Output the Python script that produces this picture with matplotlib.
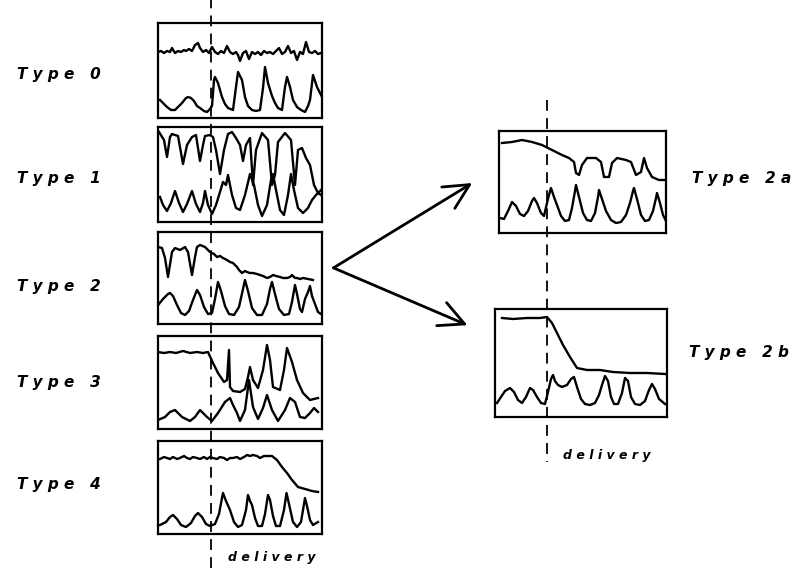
import matplotlib.pyplot as plt
from matplotlib.lines import Line2D
from matplotlib.patches import ConnectionPatch
from matplotlib.transforms import blended_transform_factory

# traces as (time, level) in panel units
type0_upper = [(0, 66), (3, 67), (6, 65), (9, 67), (12, 66), (14, 70), (17, 65), (20, 67), (23, 66),
               (26, 68), (28, 67), (31, 69), (34, 67), (37, 73), (40, 75), (42, 70), (45, 66), (48, 68),
               (51, 65), (54, 71), (57, 66), (60, 64), (63, 67), (66, 65), (69, 72), (72, 66), (75, 64),
               (78, 66), (80, 63), (82, 57), (85, 65), (88, 67), (91, 59), (94, 66), (97, 64), (100, 66),
               (103, 63), (106, 67), (109, 65), (112, 66), (115, 64), (118, 67), (121, 70), (124, 64),
               (127, 66), (130, 72), (133, 65), (136, 67), (139, 58), (142, 66), (145, 64), (148, 76),
               (151, 66), (154, 65), (157, 67), (160, 64), (163, 65)]
type0_lower = [(2, 18), (6, 14), (9, 11), (13, 8), (17, 8), (21, 12), (24, 15), (28, 20), (30, 21),
               (33, 20), (36, 17), (39, 12), (42, 10), (46, 7), (49, 6), (52, 9), (54, 12), (56, 38),
               (57, 41), (60, 35), (64, 21), (67, 14), (70, 10), (75, 8), (78, 31), (80, 46), (84, 38),
               (87, 21), (90, 12), (94, 8), (98, 7), (102, 8), (105, 30), (107, 51), (110, 35), (114, 22),
               (117, 15), (120, 10), (124, 8), (127, 31), (129, 41), (132, 31), (135, 18), (139, 11),
               (143, 8), (147, 6), (150, 12), (152, 18), (155, 43), (159, 31), (164, 21)]

type1_upper = [(1, 90), (6, 82), (9, 65), (12, 85), (14, 88), (20, 86), (25, 58), (29, 77), (34, 85),
               (38, 87), (42, 61), (45, 77), (47, 86), (52, 87), (55, 85), (58, 72), (62, 48), (66, 72),
               (70, 88), (74, 90), (78, 84), (82, 77), (85, 61), (88, 77), (92, 84), (95, 37), (98, 72),
               (104, 89), (110, 82), (114, 37), (117, 47), (120, 80), (127, 89), (133, 82), (137, 37),
               (140, 72), (144, 74), (148, 64), (152, 57), (156, 37), (160, 29), (163, 27)]
type1_lower = [(2, 25), (5, 17), (9, 11), (13, 19), (17, 31), (21, 19), (25, 10), (29, 18), (34, 31),
               (38, 18), (42, 10), (45, 19), (47, 31), (50, 17), (54, 8), (58, 17), (62, 30), (65, 40),
               (68, 37), (70, 47), (74, 27), (78, 14), (82, 12), (87, 27), (92, 48), (96, 37), (100, 17),
               (104, 6), (109, 17), (113, 42), (115, 48), (118, 32), (122, 12), (126, 7), (130, 27),
               (133, 48), (136, 32), (140, 14), (145, 9), (150, 14), (154, 22), (158, 27), (163, 32)]

type2_upper = [(0, 77), (4, 76), (7, 66), (10, 47), (14, 72), (17, 76), (22, 74), (27, 77), (30, 72),
               (34, 49), (37, 67), (39, 77), (42, 79), (47, 77), (52, 72), (56, 70), (59, 67), (62, 68),
               (65, 66), (69, 64), (72, 62), (75, 61), (79, 57), (81, 54), (84, 51), (87, 53), (89, 52),
               (92, 51), (95, 51), (99, 50), (102, 49), (105, 48), (109, 46), (112, 47), (115, 49),
               (118, 48), (122, 47), (125, 46), (129, 46), (132, 47), (134, 49), (137, 46), (139, 46),
               (142, 45), (145, 46), (150, 45), (155, 44)]
type2_lower = [(1, 20), (5, 25), (10, 30), (12, 31), (15, 28), (19, 19), (23, 11), (27, 9), (31, 13),
               (35, 24), (39, 34), (42, 29), (46, 17), (50, 10), (54, 11), (57, 25), (60, 42), (63, 33),
               (67, 18), (71, 10), (76, 9), (81, 17), (85, 35), (87, 44), (90, 33), (94, 16), (99, 9),
               (104, 9), (109, 20), (112, 35), (114, 42), (117, 30), (121, 15), (126, 9), (131, 10),
               (134, 22), (137, 39), (139, 30), (142, 15), (144, 12), (147, 25), (150, 32), (152, 38),
               (154, 28), (157, 20), (160, 12), (163, 10)]

type3_upper = [(0, 77), (6, 76), (12, 77), (18, 76), (25, 78), (32, 76), (39, 77), (45, 76), (50, 77),
               (55, 66), (60, 56), (66, 47), (69, 49), (71, 79), (72, 42), (75, 38), (82, 37), (87, 40),
               (90, 52), (92, 62), (95, 49), (100, 41), (105, 59), (109, 84), (112, 69), (115, 42),
               (122, 39), (126, 59), (129, 81), (134, 67), (139, 49), (145, 36), (152, 29), (160, 31)]
type3_lower = [(0, 9), (7, 12), (12, 17), (17, 19), (21, 15), (24, 12), (32, 8), (37, 12), (42, 19),
               (46, 15), (49, 12), (54, 8), (60, 16), (67, 27), (72, 31), (75, 24), (79, 16), (82, 8),
               (87, 19), (91, 49), (95, 22), (100, 10), (105, 21), (109, 34), (114, 19), (120, 8),
               (127, 19), (132, 31), (137, 27), (142, 12), (147, 11), (152, 16), (156, 21), (160, 17)]

type4_upper = [(2, 75), (6, 77), (9, 76), (12, 75), (15, 77), (19, 75), (22, 76), (26, 78), (29, 76),
               (32, 75), (35, 77), (39, 76), (42, 75), (46, 77), (49, 75), (52, 77), (55, 76), (59, 75),
               (62, 77), (66, 76), (69, 74), (72, 76), (75, 76), (79, 77), (82, 75), (86, 77), (89, 79),
               (92, 78), (95, 79), (99, 78), (102, 76), (106, 78), (109, 78), (114, 78), (119, 74),
               (124, 67), (129, 61), (134, 54), (140, 47), (147, 45), (154, 43), (160, 42)]
type4_lower = [(2, 9), (8, 12), (12, 17), (15, 19), (19, 15), (23, 9), (28, 7), (33, 11), (37, 18),
               (40, 21), (44, 17), (48, 10), (52, 8), (57, 10), (61, 20), (64, 36), (65, 41), (68, 33),
               (72, 24), (76, 12), (80, 7), (84, 9), (88, 24), (90, 39), (92, 33), (94, 29), (97, 16),
               (100, 8), (104, 8), (107, 20), (110, 39), (112, 34), (115, 18), (118, 8), (122, 8),
               (126, 24), (128.5, 41), (131, 30), (135, 12), (139, 7), (143, 12), (146, 30), (147, 36),
               (149, 28), (152, 14), (155, 9), (160, 12)]

type2a_upper = [(3, 90), (13, 91), (23, 93), (33, 91), (43, 88), (53, 83), (63, 78), (70, 75), (75, 71),
                (77, 60), (80, 58), (83, 68), (88, 75), (97, 75), (102, 71), (105, 56), (110, 56),
                (113, 70), (118, 75), (127, 73), (132, 71), (137, 58), (142, 61), (145, 75), (148, 65),
                (153, 56), (160, 53), (166, 53)]
type2a_lower = [(1, 15), (5, 14), (9, 22), (13, 31), (17, 27), (21, 19), (25, 17), (29, 22), (33, 32),
                (35, 35), (38, 30), (42, 20), (45, 17), (48, 30), (50, 38), (52, 45), (55, 36), (58, 28),
                (62, 17), (66, 12), (70, 13), (73, 25), (76, 42), (77, 48), (80, 36), (84, 20), (88, 13),
                (92, 12), (96, 20), (99, 36), (100, 43), (103, 34), (107, 22), (112, 13), (117, 10),
                (122, 11), (127, 18), (131, 30), (134, 42), (135, 45), (138, 34), (142, 18), (146, 12),
                (150, 13), (154, 22), (157, 35), (158, 40), (161, 30), (164, 18), (167, 12)]

type2b_upper = [(7, 99), (18, 98), (32, 99), (45, 99), (52, 100), (57, 94), (62, 84), (68, 72), (75, 60),
                (82, 49), (92, 47), (105, 47), (118, 45), (135, 44), (152, 44), (170, 43)]
type2b_lower = [(2, 14), (6, 20), (10, 26), (15, 29), (19, 25), (23, 17), (27, 14), (31, 20), (35, 29),
                (38, 27), (42, 20), (46, 14), (50, 13), (53, 25), (56, 38), (58, 42), (60, 36), (63, 32),
                (67, 30), (72, 32), (76, 38), (79, 40), (82, 30), (86, 18), (90, 13), (95, 12), (100, 14),
                (104, 22), (107, 32), (110, 41), (113, 36), (116, 20), (119, 13), (123, 13), (127, 24),
                (130, 39), (133, 36), (136, 20), (140, 13), (145, 12), (150, 16), (154, 27), (157, 33),
                (160, 28), (164, 18), (170, 13)]

# time of delivery in each column's panel units
delivery_left = 53
delivery_2a = 48
delivery_2b = 52

W, H = 796, 568
fig = plt.figure(figsize=(W / 100, H / 100), dpi=100)


def panel(left, top, width, height, upper, lower):
    ax = fig.add_axes([left / W, 1 - (top + height) / H, width / W, height / H])
    ax.set_xlim(0, width)
    ax.set_ylim(0, height)
    ax.set_xticks([])
    ax.set_yticks([])
    for s in ax.spines.values():
        s.set_linewidth(1.6)
    for trace in (upper, lower):
        t, v = zip(*trace)
        ax.plot(t, v, color='black', lw=1.7, solid_joinstyle='round')
    return ax


ax0 = panel(158, 23, 164, 95, type0_upper, type0_lower)
ax1 = panel(158, 127, 164, 95, type1_upper, type1_lower)
ax2 = panel(158, 232, 164, 92, type2_upper, type2_lower)
ax3 = panel(158, 336, 164, 93, type3_upper, type3_lower)
ax4 = panel(158, 441, 164, 93, type4_upper, type4_lower)
ax2a = panel(499, 131, 167, 102, type2a_upper, type2a_lower)
ax2b = panel(495, 309, 172, 108, type2b_upper, type2b_lower)

# delivery markers
dash = dict(color='black', lw=1.3, linestyle=(0, (6, 4)))
fig.add_artist(Line2D([delivery_left] * 2, [0, 1],
                      transform=blended_transform_factory(ax0.transData, fig.transFigure), **dash))
fig.add_artist(Line2D([delivery_2a] * 2, [1 - 100 / H, 1 - 462 / H],
                      transform=blended_transform_factory(ax2a.transData, fig.transFigure), **dash))

# arrows from type 2 to its subtypes
for target, ypos in ((ax2a, 0.49), (ax2b, 0.85)):
    fig.add_artist(ConnectionPatch((1.07, 0.61), (-0.16, ypos), coordsA=ax2.transAxes,
                                   coordsB=target.transAxes,
                                   arrowstyle='->,head_length=0.9,head_width=0.45',
                                   mutation_scale=20, lw=2, color='black'))

label_font = dict(fontsize=11, fontweight='bold', fontstyle='italic', va='center', ha='left')
for name, y in (('0', 75), ('1', 178), ('2', 287), ('3', 383), ('4', 485)):
    fig.text(17 / W, 1 - y / H, 'T y p e   ' + name, **label_font)
fig.text(692 / W, 1 - 178 / H, 'T y p e   2 a', **label_font)
fig.text(689 / W, 1 - 352 / H, 'T y p e   2 b', **label_font)

small_font = dict(fontsize=9, fontweight='bold', fontstyle='italic', va='center', ha='left')
fig.text(228 / W, 1 - 557 / H, 'd e l i v e r y', **small_font)
fig.text(563 / W, 1 - 455 / H, 'd e l i v e r y', **small_font)

fig.savefig('out.png', dpi=100)
